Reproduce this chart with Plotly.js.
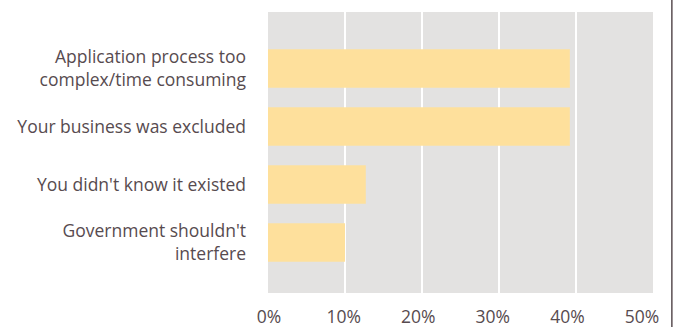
<!DOCTYPE html>
<html>
<head>
<meta charset="utf-8">
<script src="https://cdn.plot.ly/plotly-3.0.1.min.js"></script>
<style>html,body{margin:0;padding:0;background:#fff;}#chart{width:680px;height:327px;}</style>
</head>
<body>
<div id="chart"></div>
<script>
const categories = [
  "Application process too<br>complex/time consuming",
  "Your business was excluded",
  "You didn't know it existed",
  "Government shouldn't<br>interfere"
];
const values = [39.2, 39.2, 12.7, 10.0];
const tickValues = [0, 10, 20, 30, 40, 50];
const tickLabels = ["0%", "10%", "20%", "30%", "40%", "50%"];

const textColor = "#574b4f";
const font = {family: "Open Sans, Noto Sans, sans-serif", size: 17.5, color: textColor};

Plotly.newPlot("chart", [{
  type: "bar",
  orientation: "h",
  y: categories,
  x: values,
  marker: {color: "#fee09c", line: {width: 0}},
  hoverinfo: "skip"
}, {
  type: "scatter",
  mode: "markers",
  x: tickValues,
  y: tickValues.map(() => categories[0]),
  xaxis: "x2",
  yaxis: "y",
  marker: {opacity: 0, size: 1},
  hoverinfo: "skip",
  showlegend: false
}], {
  width: 680, height: 327,
  margin: {l: 268, r: 27, t: 12, b: 34, pad: 0},
  paper_bgcolor: "#ffffff",
  plot_bgcolor: "#e3e2e1",
  font: font,
  bargap: 0.338,
  showlegend: false,
  xaxis: {
    range: [0, 50],
    tickvals: tickValues,
    showticklabels: false,
    showgrid: true,
    gridcolor: "#ffffff",
    gridwidth: 1.5,
    zeroline: false,
    showline: false,
    ticks: "",
    fixedrange: true
  },
  xaxis2: {
    overlaying: "x",
    side: "bottom",
    anchor: "y",
    range: [-0.134, 51.47],
    tickvals: tickValues,
    ticktext: tickLabels,
    showgrid: false,
    zeroline: false,
    showline: false,
    ticks: "",
    ticklabelstandoff: 11,
    tickfont: font,
    fixedrange: true
  },
  yaxis: {
    type: "category",
    categoryorder: "array",
    categoryarray: categories,
    range: [3.87, -0.974],
    showgrid: false,
    zeroline: false,
    showline: false,
    ticks: "",
    ticklabelstandoff: 21,
    tickfont: font,
    fixedrange: true
  },
  shapes: [{
    type: "line", xref: "paper", yref: "paper",
    x0: 1.049, x1: 1.049, y0: -0.2, y1: 1.1,
    line: {color: "#5a4e52", width: 1.5}
  }]
}, {displayModeBar: false, staticPlot: true});
</script>
</body>
</html>
